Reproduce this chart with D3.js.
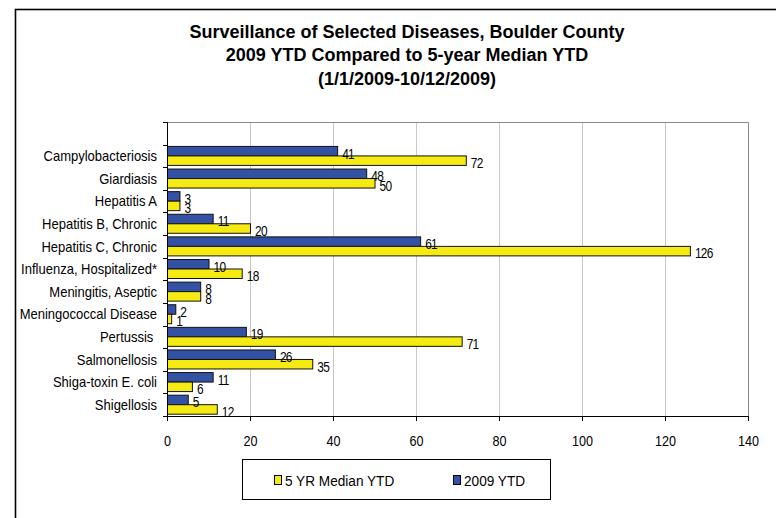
<!DOCTYPE html>
<html>
<head>
<meta charset="utf-8">
<script src="https://cdn.jsdelivr.net/npm/d3@7"></script>
<style>
  html, body { margin: 0; padding: 0; background: #fff; }
  svg { display: block; font-family: "Liberation Sans", Arial, sans-serif; }
</style>
</head>
<body>
<svg id="chart" width="776" height="518"></svg>
<script>
// Disease categories, top to bottom
const categories = [
  "Campylobacteriosis",
  "Giardiasis",
  "Hepatitis A",
  "Hepatitis B, Chronic",
  "Hepatitis C, Chronic",
  "Influenza, Hospitalized*",
  "Meningitis, Aseptic",
  "Meningococcal Disease",
  "Pertussis ",
  "Salmonellosis",
  "Shiga-toxin E. coli",
  "Shigellosis"
];
// Case counts, year to date
const ytd2009 = [41, 48, 3, 11, 61, 10, 8, 2, 19, 26, 11, 5];
const median5yr = [72, 50, 3, 20, 126, 18, 8, 1, 71, 35, 6, 12];
const seriesNames = ["2009 YTD", "5 YR Median YTD"];
const legendOrder = ["5 YR Median YTD", "2009 YTD"];
const xTicks = [0, 20, 40, 60, 80, 100, 120, 140];
const titleLines = [
  "Surveillance of Selected Diseases, Boulder County",
  "2009 YTD Compared to 5-year Median YTD",
  "(1/1/2009-10/12/2009)"
];

const colors = { "2009 YTD": "#3352a3", "5 YR Median YTD": "#f5ea12" };

const svg = d3.select("#chart");
const plot = { left: 167, right: 748, top: 122, bottom: 416 };

// places a slightly condensed text at (x, y)
function narrowText(sel, xf, yf, k) {
  return sel
    .attr("x", 0).attr("y", 0)
    .attr("transform", (d, i) => `translate(${xf(d, i)},${yf(d, i)}) scale(${k},1)`);
}

// outer frame
svg.append("rect")
  .attr("x", 15.5).attr("y", 9.5)
  .attr("width", 900).attr("height", 700)
  .attr("fill", "none").attr("stroke", "#000").attr("stroke-width", 1.6);

// title
svg.append("g").selectAll("text").data(titleLines).join("text")
  .attr("x", 407).attr("y", (d, i) => 37.5 + i * 23.5)
  .attr("text-anchor", "middle")
  .attr("font-size", 18).attr("font-weight", "bold").attr("fill", "#000")
  .text(d => d);

const x = d3.scaleLinear().domain([0, 140]).range([plot.left, plot.right]);
// a blank leading slot leaves empty room above the first category
const y = d3.scaleBand().domain(["", ...categories]).range([plot.top, plot.bottom]);
const ySub = d3.scaleBand().domain(seriesNames).range([0, y.bandwidth()])
  .paddingInner(0).paddingOuter(0.19);

// gridlines
svg.append("g").selectAll("line").data(xTicks.filter(t => t > 0 && t < 140)).join("line")
  .attr("x1", d => x(d) + 0.5).attr("x2", d => x(d) + 0.5)
  .attr("y1", plot.top).attr("y2", plot.bottom)
  .attr("stroke", "#c8c8c8").attr("stroke-width", 1);

// plot area border (top and right)
svg.append("path")
  .attr("d", `M${plot.left},${plot.top + 0.5}H${plot.right + 0.5}V${plot.bottom}`)
  .attr("fill", "none").attr("stroke", "#8a8a8a").attr("stroke-width", 1);

// bars
const rows = categories.map((c, i) => ({ cat: c, values: [
  { s: "2009 YTD", v: ytd2009[i] },
  { s: "5 YR Median YTD", v: median5yr[i] }
]}));

const rowG = svg.append("g").selectAll("g").data(rows).join("g")
  .attr("transform", d => `translate(0,${y(d.cat)})`);

rowG.selectAll("rect").data(d => d.values).join("rect")
  .attr("x", x(0) + 0.5)
  .attr("y", d => ySub(d.s))
  .attr("width", d => x(d.v) - x(0))
  .attr("height", ySub.bandwidth())
  .attr("fill", d => colors[d.s])
  .attr("stroke", "#111").attr("stroke-width", 1);

narrowText(rowG.selectAll("text").data(d => d.values).join("text"),
    d => x(d.v) + 5,
    d => ySub(d.s) + ySub.bandwidth() / 2 + 2.5, 0.85)
  .attr("dominant-baseline", "central")
  .attr("font-size", 14).attr("fill", "#000")
  .attr("letter-spacing", -0.8)
  .text(d => d.v);

// category axis
const yAxisG = svg.append("g");
yAxisG.append("line")
  .attr("x1", plot.left + 0.5).attr("x2", plot.left + 0.5)
  .attr("y1", plot.top).attr("y2", plot.bottom + 0.5)
  .attr("stroke", "#000");
const boundaries = y.domain().map(d => y(d)).concat([plot.bottom]);
yAxisG.selectAll("line.tick").data(boundaries).join("line")
  .attr("class", "tick")
  .attr("x1", plot.left - 4).attr("x2", plot.left)
  .attr("y1", d => Math.round(d) + 0.5).attr("y2", d => Math.round(d) + 0.5)
  .attr("stroke", "#000");
narrowText(yAxisG.selectAll("text").data(categories).join("text"),
    () => plot.left - 10,
    d => y(d) + y.bandwidth() / 2 + 0.5, 0.93)
  .attr("text-anchor", "end")
  .attr("dominant-baseline", "central")
  .attr("font-size", 14).attr("fill", "#000")
  .style("white-space", "pre")
  .text(d => d);

// value axis
const xAxisG = svg.append("g");
xAxisG.append("line")
  .attr("x1", plot.left).attr("x2", plot.right + 0.5)
  .attr("y1", plot.bottom + 0.5).attr("y2", plot.bottom + 0.5)
  .attr("stroke", "#000");
xAxisG.selectAll("line.tick").data(xTicks).join("line")
  .attr("class", "tick")
  .attr("x1", d => x(d) + 0.5).attr("x2", d => x(d) + 0.5)
  .attr("y1", plot.bottom).attr("y2", plot.bottom + 5)
  .attr("stroke", "#000");
narrowText(xAxisG.selectAll("text").data(xTicks).join("text"),
    d => x(d) + 0.5, () => 441, 0.9)
  .attr("text-anchor", "middle").attr("dominant-baseline", "central")
  .attr("font-size", 14).attr("fill", "#000")
  .text(d => d);

// legend
const legend = svg.append("g");
legend.append("rect")
  .attr("x", 242.5).attr("y", 459.5).attr("width", 308).attr("height", 40)
  .attr("fill", "#fff").attr("stroke", "#000").attr("stroke-width", 1);
const legendX = [274, 453];
const items = legend.selectAll("g").data(legendOrder).join("g")
  .attr("transform", (d, i) => `translate(${legendX[i]},0)`);
items.append("rect")
  .attr("x", 0.5).attr("y", 475.5).attr("width", 7).attr("height", 9)
  .attr("fill", d => colors[d]).attr("stroke", "#000");
narrowText(items.append("text"), () => 11, () => 480.5, 0.94)
  .attr("dominant-baseline", "central")
  .attr("font-size", 14.5).attr("fill", "#000")
  .text(d => d);
</script>
</body>
</html>
